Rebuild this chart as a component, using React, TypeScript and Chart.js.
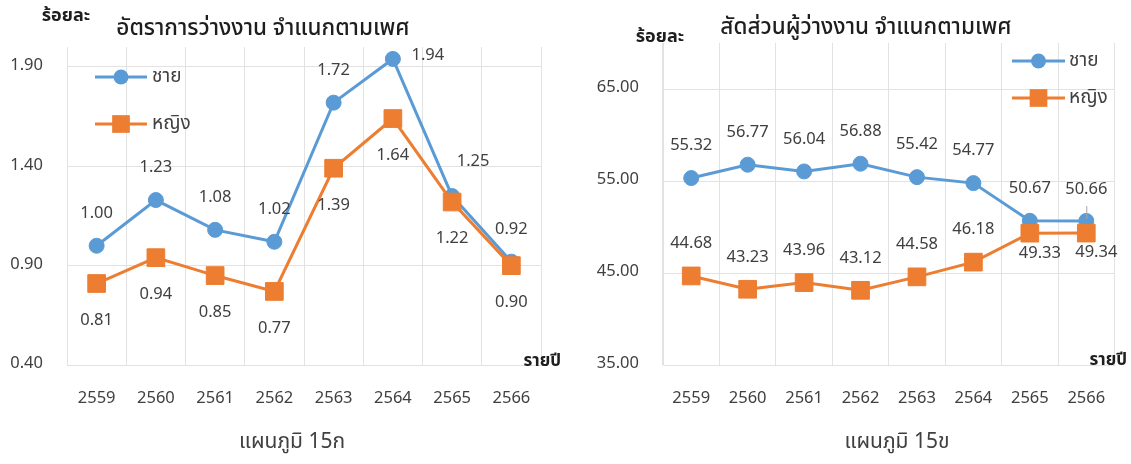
import React, { useEffect, useRef } from 'react';
import { Chart, registerables } from 'chart.js';

Chart.register(...registerables);

// ---------- data ----------
const years = ['2559', '2560', '2561', '2562', '2563', '2564', '2565', '2566'];

const rateMale = [1.0, 1.23, 1.08, 1.02, 1.72, 1.94, 1.25, 0.92];
const rateFemale = [0.81, 0.94, 0.85, 0.77, 1.39, 1.64, 1.22, 0.9];
const rateTicks = [0.4, 0.9, 1.4, 1.9];

const shareMale = [55.32, 56.77, 56.04, 56.88, 55.42, 54.77, 50.67, 50.66];
const shareFemale = [44.68, 43.23, 43.96, 43.12, 44.58, 46.18, 49.33, 49.34];
const shareTicks = [35, 45, 55, 65];

// label placement keywords (where the value label sits relative to its point)
const rateMalePos = ['above', 'above', 'above', 'above', 'above', 'right', 'aboveRight', 'above'];
const rateFemalePos = ['below', 'below', 'below', 'below', 'below', 'below', 'below', 'below'];
const shareMalePos = ['above', 'above', 'above', 'above', 'above', 'above', 'above', 'aboveLeader'];
const shareFemalePos = ['above', 'above', 'above', 'above', 'above', 'above', 'belowRight', 'belowRight'];

// ---------- styles ----------
const FONT = "'Noto Sans Thai', 'Leelawadee UI', Tahoma, 'Noto Sans', 'DejaVu Sans', sans-serif";
const BLUE = '#5B9BD5';
const ORANGE = '#ED7D31';
const GRID = '#e2e2e2';
const TEXT = '#404040';
const DARK = '#1e1e1e';

const OFFSETS: Record<string, [number, number]> = {
  above: [0, -31],
  below: [0, 38],
  right: [35, -2],
  aboveRight: [21, -33],
  belowRight: [10, 21],
  aboveLeader: [0, -30],
};

type Series = {
  name: string;
  data: number[];
  color: string;
  style: 'circle' | 'rect';
  radius: number;
  pos: string[];
  order: number;
};

type PanelProps = {
  left: number;
  width: number;
  height: number;
  plot: { left: number; right: number; top: number; bottom: number };
  yMin: number;
  yMax: number;
  ticks: number[];
  series: Series[];
  title: string;
  titlePos: [number, number];
  unitPos: [number, number];
  xUnitPos: [number, number];
  legend: { x1: number; x2: number; y: number[]; textX: number };
};

function Panel(p: PanelProps) {
  const ref = useRef<HTMLCanvasElement>(null);
  useEffect(() => {
    if (!ref.current) return;
    const extras = {
      id: 'extras',
      afterDraw(chart: any) {
        const ctx = chart.ctx as CanvasRenderingContext2D;
        ctx.save();
        // title
        ctx.fillStyle = DARK;
        ctx.font = `500 22.5px ${FONT}`;
        ctx.textAlign = 'center';
        ctx.textBaseline = 'middle';
        ctx.fillText(p.title, p.titlePos[0], p.titlePos[1]);
        // unit labels
        ctx.font = `bold 18px ${FONT}`;
        ctx.fillText('ร้อยละ', p.unitPos[0], p.unitPos[1]);
        ctx.textAlign = 'right';
        ctx.font = `bold 17px ${FONT}`;
        ctx.fillText('รายปี', p.xUnitPos[0], p.xUnitPos[1]);
        // legend
        p.series.forEach((s, i) => {
          const y = p.legend.y[i];
          ctx.strokeStyle = s.color;
          ctx.lineWidth = 3;
          ctx.beginPath();
          ctx.moveTo(p.legend.x1, y);
          ctx.lineTo(p.legend.x2, y);
          ctx.stroke();
          ctx.fillStyle = s.color;
          const cx = (p.legend.x1 + p.legend.x2) / 2;
          if (s.style === 'circle') {
            ctx.beginPath();
            ctx.arc(cx, y, s.radius, 0, Math.PI * 2);
            ctx.fill();
          } else {
            const h = s.radius * Math.SQRT1_2;
            ctx.fillRect(cx - h, y - h, 2 * h, 2 * h);
          }
          ctx.fillStyle = TEXT;
          ctx.font = `19px ${FONT}`;
          ctx.textAlign = 'left';
          ctx.textBaseline = 'middle';
          ctx.fillText(s.name, p.legend.textX, y + 1);
        });
        // data labels
        ctx.font = `16.5px ${FONT}`;
        ctx.textAlign = 'center';
        ctx.textBaseline = 'middle';
        p.series.forEach((s, di) => {
          const meta = chart.getDatasetMeta(di);
          meta.data.forEach((pt: any, j: number) => {
            const key = s.pos[j];
            const [dx, dy] = OFFSETS[key];
            const x = pt.x + dx;
            const y = pt.y + dy;
            if (key === 'aboveLeader') {
              ctx.strokeStyle = '#a6a6a6';
              ctx.lineWidth = 1;
              ctx.beginPath();
              ctx.moveTo(pt.x + 0.5, y + 15);
              ctx.lineTo(pt.x + 0.5, pt.y - 2);
              ctx.stroke();
            }
            ctx.fillStyle = TEXT;
            ctx.fillText(s.data[j].toFixed(2), x, y);
          });
        });
        ctx.restore();
      },
    };

    const chart = new Chart(ref.current, {
      type: 'line',
      data: {
        labels: years,
        datasets: p.series.map((s) => ({
          label: s.name,
          data: s.data,
          borderColor: s.color,
          backgroundColor: s.color,
          borderWidth: 3,
          pointStyle: s.style,
          pointRadius: s.radius,
          pointBackgroundColor: s.color,
          pointBorderColor: s.color,
          pointBorderWidth: 1,
          tension: 0,
          order: s.order,
        })),
      },
      options: {
        responsive: false,
        animation: false,
        events: [],
        layout: {
          padding: { left: 0, right: p.width - p.plot.right, top: p.plot.top, bottom: 0 },
        },
        plugins: {
          legend: { display: false },
          tooltip: { enabled: false },
          title: { display: false },
        },
        scales: {
          x: {
            type: 'category',
            offset: true,
            grid: { offset: true, color: GRID, lineWidth: 1, drawTicks: false },
            border: { color: GRID, width: 1 },
            ticks: { padding: 25, color: TEXT, font: { family: FONT, size: 16.5 }, maxRotation: 0 },
            afterFit(scale: any) {
              scale.height = p.height - p.plot.bottom;
            },
          },
          y: {
            type: 'linear',
            min: p.yMin,
            max: p.yMax,
            grid: { color: GRID, lineWidth: 1, drawTicks: false },
            border: { color: GRID, width: 1 },
            ticks: {
              padding: 24,
              color: TEXT,
              font: { family: FONT, size: 16.5 },
              callback: (v: any) => Number(v).toFixed(2),
            },
            afterBuildTicks(scale: any) {
              scale.ticks = p.ticks.map((v) => ({ value: v }));
            },
            afterFit(scale: any) {
              scale.width = p.plot.left;
            },
          },
        },
      },
      plugins: [extras],
    } as any);
    return () => chart.destroy();
  }, []);
  return (
    <canvas
      ref={ref}
      width={p.width}
      height={p.height}
      style={{ position: 'absolute', left: p.left, top: 0, width: p.width, height: p.height }}
    />
  );
}

export default function App() {
  const rateSeries: Series[] = [
    { name: 'ชาย', data: rateMale, color: BLUE, style: 'circle', radius: 7.5, pos: rateMalePos, order: 1 },
    { name: 'หญิง', data: rateFemale, color: ORANGE, style: 'rect', radius: 12.5, pos: rateFemalePos, order: 0 },
  ];
  const shareSeries: Series[] = [
    { name: 'ชาย', data: shareMale, color: BLUE, style: 'circle', radius: 7.5, pos: shareMalePos, order: 1 },
    { name: 'หญิง', data: shareFemale, color: ORANGE, style: 'rect', radius: 12.5, pos: shareFemalePos, order: 0 },
  ];
  const caption: React.CSSProperties = {
    position: 'absolute',
    top: 427,
    width: 300,
    textAlign: 'center',
    fontFamily: FONT,
    fontSize: 21,
    color: TEXT,
    lineHeight: '30px',
  };
  return (
    <div style={{ position: 'fixed', left: 0, top: 0, width: 1131, height: 464, background: '#fff', overflow: 'hidden' }}>
      <Panel
        left={0}
        width={570}
        height={464}
        plot={{ left: 67, right: 541, top: 47, bottom: 365 }}
        yMin={0.4}
        yMax={2.0}
        ticks={rateTicks}
        series={rateSeries}
        title="อัตราการว่างงาน จำแนกตามเพศ"
        titlePos={[263, 30]}
        unitPos={[66, 17]}
        xUnitPos={[561, 363]}
        legend={{ x1: 95, x2: 147, y: [77, 124], textX: 152 }}
      />
      <Panel
        left={580}
        width={551}
        height={464}
        plot={{ left: 83, right: 544, top: 43, bottom: 365 }}
        yMin={35}
        yMax={70}
        ticks={shareTicks}
        series={shareSeries}
        title="สัดส่วนผู้ว่างงาน จำแนกตามเพศ"
        titlePos={[286, 29]}
        unitPos={[80, 38]}
        xUnitPos={[547, 362]}
        legend={{ x1: 432, x2: 485, y: [61, 98], textX: 489 }}
      />
      <div style={{ ...caption, left: 292 - 150 }}>แผนภูมิ 15ก</div>
      <div style={{ ...caption, left: 897 - 150 }}>แผนภูมิ 15ข</div>
    </div>
  );
}
